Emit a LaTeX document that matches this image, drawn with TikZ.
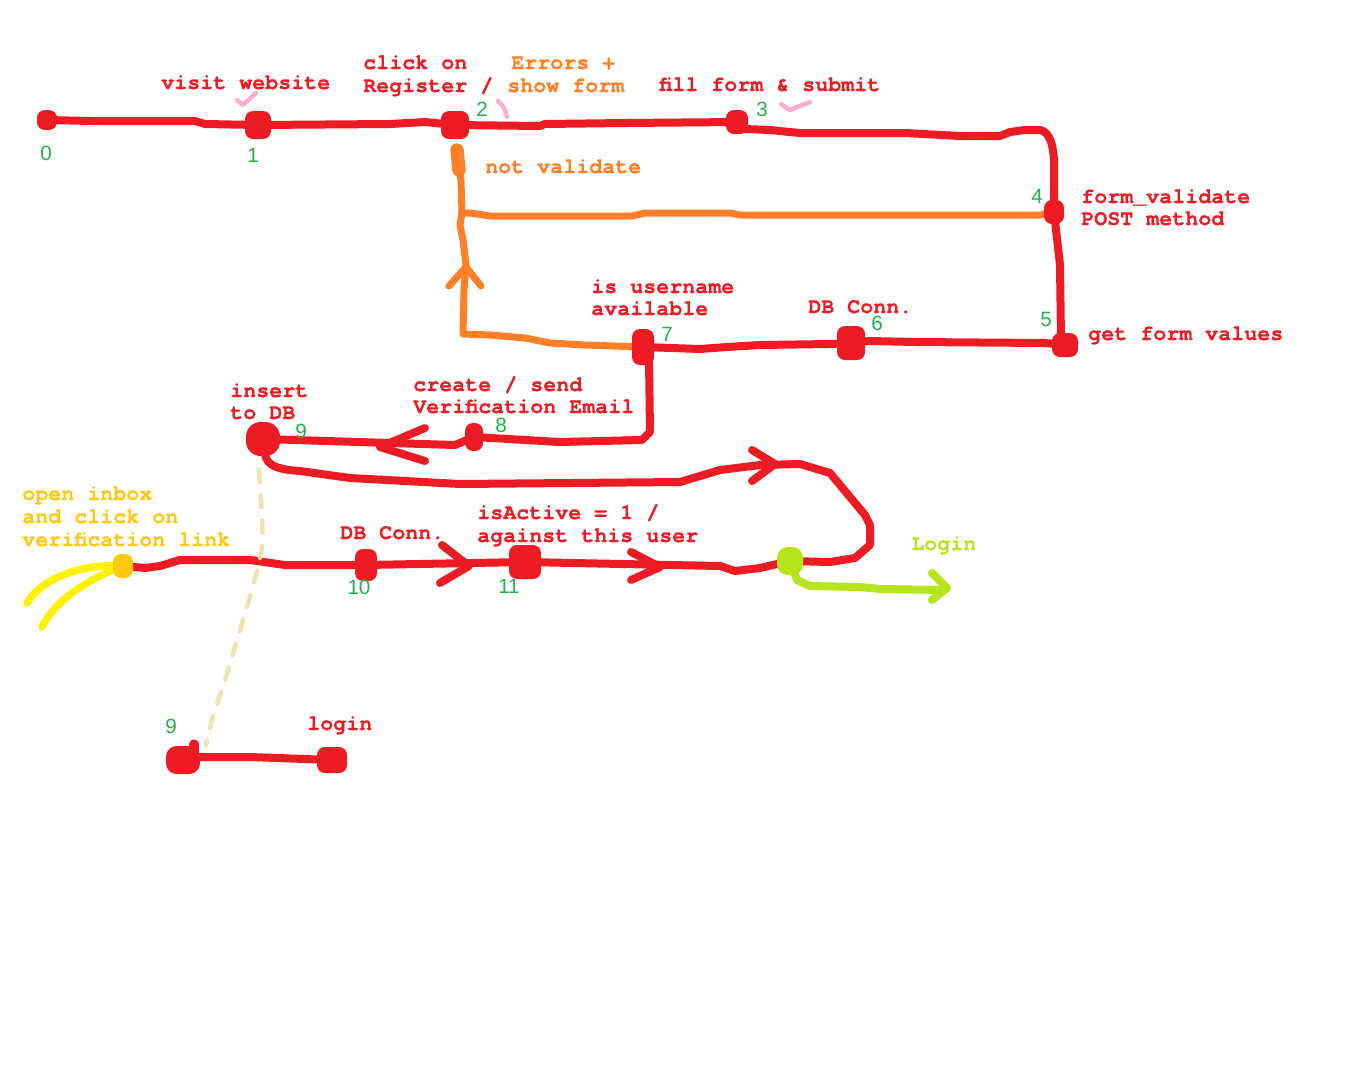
\documentclass[tikz,border=0pt]{standalone}
\usepackage{fontspec}
\setmonofont{texgyrecursor}[Extension=.otf, UprightFont=*-regular, BoldFont=*-bold, BoldFeatures={FakeBold=0.4}]
\newfontfamily\numfont{Liberation Sans}
\pgfdeclarelayer{bg}
\pgfsetlayers{bg,main}
\definecolor{pRed}{HTML}{ED1C24}
\definecolor{pOrange}{HTML}{FF7F27}
\definecolor{pGreen}{HTML}{22B14C}
\definecolor{pLime}{HTML}{B5E61D}
\definecolor{pYellow}{HTML}{FFF200}
\definecolor{pGold}{HTML}{FFC90E}
\definecolor{pPink}{HTML}{FFAEC9}
\definecolor{pBeige}{HTML}{EFE4B0}
\tikzset{
  redline/.style={draw=pRed, line width=6pt, line cap=round, line join=round},
  orangeline/.style={draw=pOrange, line width=5.25pt, line cap=round, line join=round},
  limeline/.style={draw=pLime, line width=6pt, line cap=round, line join=round},
  yellowline/.style={draw=pYellow, line width=5.6pt, line cap=round, line join=round},
  pinkline/.style={draw=pPink, line width=3.4pt, line cap=round, line join=round},
  beigedash/.style={draw=pBeige, line width=3.4pt, line cap=round, dash pattern=on 9pt off 10pt},
  dotbox/.style 2 args={fill=pRed, inner sep=0pt, rounded corners=6pt,
     minimum width=#1*0.75pt, minimum height=#2*0.75pt},
  lbl/.style={font=\ttfamily\bfseries\fontsize{16.25}{19}\selectfont, text=pRed, anchor=base west, inner sep=0pt},
  num/.style={font=\numfont\fontsize{15.5}{18}\selectfont, text=pGreen, inner sep=0pt},
}
\begin{document}
\begin{tikzpicture}[x=0.75pt,y=-0.75pt]
\useasboundingbox (0,0) rectangle (1365,1076);

% ---- dots ----
\node[dotbox={20}{20}] (n0) at (47,120) {};
\node[dotbox={26}{28}] (n1) at (258,125) {};
\node[dotbox={28}{28}] (n2) at (455,125) {};
\node[dotbox={22}{24}] (n3) at (737,122) {};
\node[dotbox={20}{24}] (n4) at (1054,212) {};
\node[dotbox={26}{24}] (n5) at (1065,345) {};
\node[dotbox={28}{34}] (n6) at (851,343) {};
\node[dotbox={22}{36}] (n7) at (643,347) {};
\node[dotbox={18}{28}] (n8) at (474,437) {};
\node[dotbox={34}{34}, rounded corners=11pt] (n9) at (263,439) {};
\node[dotbox={22}{32}] (n10) at (366,565) {};
\node[dotbox={32}{34}] (n11) at (525,562) {};
\node[dotbox={26}{28}, fill=pLime, rounded corners=8pt] (nL) at (790,561) {};
\node[dotbox={20}{24}, fill=pGold] (nY) at (123,566) {};
\node[dotbox={34}{28}, rounded corners=8pt] (n9b) at (183,760) {};
\node[dotbox={30}{26}] (n9c) at (332,760) {};
\coordinate (loginEnd) at (945,590);

\begin{pgfonlayer}{bg}
\fill[white] (0,0) rectangle (1365,1076);
% top red line
\draw[redline] (n0.center) -- (92,121) -- (195,121) -- (205,124) -- (n1.center);
\draw[redline] (n1.center) -- (390,124) -- (425,122) -- (n2.center);
\draw[redline] (n2.center) -- (540,126) -- (545,124) -- (625,123) -- (n3.center);
\draw[redline] (n3.center) -- (745,129) -- (770,130) -- (800,133) -- (905,133) -- (960,136) -- (1000,136) -- (1010,132) -- (1025,130) -- (1040,130) .. controls (1050,132) and (1053,145) .. (1054,160) -- (n4.center);
\draw[redline] (n4.center) -- (1060,265) -- (1061,340) -- (n5.center);
% 5 -> 6 -> 7
\draw[redline] (n5.center) -- (1045,343) -- (915,342) -- (870,341) -- (n6.center);
\draw[redline] (n6.center) -- (830,344) -- (760,345) -- (727,347) -- (700,349) -- (n7.center);
% 7 -> 8 -> 9
\draw[redline] (n7.center) -- (649,360) -- (650,432) -- (642,440) -- (560,442) -- (n8.center);
\draw[redline] (n8.center) -- (455,445) -- (n9.center);
\draw[redline] (425,428) -- (380,447) -- (425,461);
% 9 -> lime dot
\draw[redline] (n9.center) -- (266,458) .. controls (270,468) and (285,470) .. (300,471) -- (350,478) -- (460,484) -- (680,482) -- (720,470) -- (760,465) -- (800,464) -- (830,473) -- (865,515) -- (870,525) -- (870,545) -- (855,558) -- (830,562) -- (nL.center);
\draw[redline] (752,450) -- (775,464) -- (752,481);
% bottom line
\draw[redline] (nY.center) -- (145,568) -- (160,566) -- (180,560) -- (250,560) -- (285,565) -- (n10.center);
\draw[redline] (n10.center) -- (n11.center);
\draw[redline] (n11.center) -- (720,566) -- (735,571) -- (760,568) -- (nL.center);
\draw[redline] (442,545) -- (469,566) -- (440,583);
\draw[redline] (631,552) -- (660,567) -- (631,580);
% lime
\draw[limeline] (nL.center) -- (797,580) -- (810,586) -- (860,587) -- (880,589) -- (loginEnd);
\draw[limeline] (932,573) -- (947,588) -- (932,600);
% orange
\draw[orangeline] (n4.center) -- (1040,215) -- (740,215) -- (730,213) -- (645,213) -- (632,216) -- (490,216) -- (470,213) -- (462,213) -- (461,180) -- (459,165);
\draw[draw=pOrange, line width=10pt, line cap=round] (457,150) -- (459,170);
\draw[orangeline] (n7.center) -- (585,345) -- (550,343) -- (525,338) -- (490,335) -- (463,334) -- (464,290) -- (466,265) -- (463,240) -- (460,225) -- (462,213);
\draw[orangeline] (449,286) -- (466,267) -- (481,286);
% yellow
\draw[yellowline] (nY.center) .. controls (80,563) and (40,580) .. (27,603);
\draw[yellowline] (nY.center) .. controls (90,578) and (55,600) .. (42,627);
% beige dashed
\draw[beigedash] plot[smooth] coordinates {(259,470) (262,520) (262,545) (256,575) (240,630) (225,680) (212,720) (206,745)};
% bottom small line
\draw[redline] (n9b.center) -- (200,757) -- (250,757) -- (n9c.center);
\draw[draw=pRed, line width=7pt, line cap=round] (194,744) -- (194,752);
% pink checks
\draw[pinkline] (237,100) -- (243,105) -- (256,93);
\draw[pinkline] (498,101) .. controls (504,107) .. (507,117);
\draw[pinkline] (781,104) -- (790,110) -- (797,107) -- (810,102);
\end{pgfonlayer}

% ---- labels ----
\node[lbl] (tVisit) at (161,89) {visit website};
\node[lbl] (tClick1) at (363,69) {click on};
\node[lbl] (tClick2) at (363,92) {Register /};
\node[lbl, text=pOrange] (tErr1) at (511,69) {Errors +};
\node[lbl, text=pOrange] (tErr2) at (507,92) {show form};
\node[lbl] (tFill) at (659,91) {fill form \& submit};
\node[lbl, text=pOrange] (tNot) at (485,173) {not validate};
\node[lbl] (tFv1) at (1081,203) {form\_validate};
\node[lbl] (tFv2) at (1081,225) {POST method};
\node[lbl] (tUser1) at (591,293) {is username};
\node[lbl] (tUser2) at (591,315) {available};
\node[lbl] (tDb1) at (808,313) {DB Conn.};
\node[lbl] (tGet) at (1088,340) {get form values};
\node[lbl] (tIns1) at (230,397) {insert};
\node[lbl] (tIns2) at (230,419) {to DB};
\node[lbl] (tCre1) at (413,391) {create / send};
\node[lbl] (tCre2) at (413,413) {Verification Email};
\node[lbl, text=pGold] (tOpen1) at (22,500) {open inbox};
\node[lbl, text=pGold] (tOpen2) at (22,523) {and click on};
\node[lbl, text=pGold] (tOpen3) at (22,546) {verification link};
\node[lbl] (tDb2) at (340,539) {DB Conn.};
\node[lbl] (tAct1) at (477,519) {isActive = 1 /};
\node[lbl] (tAct2) at (477,542) {against this user};
\node[lbl, text=pLime] (tLogin) at (911,550) {Login};
\node[lbl] (tlogin) at (307,730) {login};

% ---- numbers ----
\node[num] (k0) at (46,153) {0};
\node[num] (k1) at (253,155) {1};
\node[num] (k2) at (482,109) {2};
\node[num] (k3) at (762,109) {3};
\node[num] (k4) at (1037,196) {4};
\node[num] (k5) at (1046,319) {5};
\node[num] (k6) at (877,323) {6};
\node[num] (k7) at (667,334) {7};
\node[num] (k8) at (501,425) {8};
\node[num] (k9) at (301,431) {9};
\node[num] (k10) at (359,587) {10};
\node[num] (k11) at (509,586) {11};
\node[num] (k9b) at (171,726) {9};
\end{tikzpicture}
\end{document}
